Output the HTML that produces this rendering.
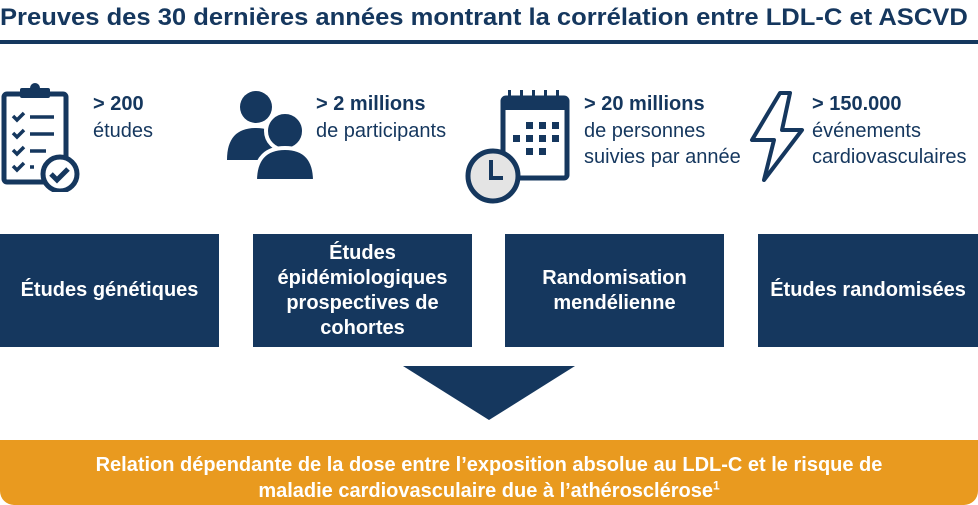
<!DOCTYPE html>
<html><head><meta charset="utf-8"><style>
*{margin:0;padding:0;box-sizing:border-box}
body{width:978px;height:505px;background:#fff;position:relative;overflow:hidden;font-family:"Liberation Sans","DejaVu Sans",sans-serif;color:#15375e}
.title{position:absolute;left:0;top:4px;font-size:24px;font-weight:bold;white-space:nowrap;transform-origin:0 0;transform:scaleX(1.065)}
.rule{position:absolute;left:0;top:40px;width:978px;height:4px;background:#15375e}
.stat{position:absolute;font-size:20px;line-height:26.5px;white-space:nowrap}
.stat b{font-weight:bold}
.box{position:absolute;top:234px;height:113px;background:#15375e;color:#fff;font-weight:bold;font-size:20px;line-height:25px;display:flex;align-items:center;justify-content:center;text-align:center}
.bar{position:absolute;left:0;top:440px;width:978px;height:65px;background:#e99a1f;border-radius:0 0 14px 14px;color:#fff;font-weight:bold;font-size:20px;line-height:26px;text-align:center;padding-top:12px;white-space:nowrap}
svg{position:absolute}
</style></head><body>
<div class="title">Preuves des 30 dernières années montrant la corrélation entre LDL-C et ASCVD</div>
<div class="rule"></div>

<svg style="left:0;top:82px" width="82" height="110" viewBox="0 0 82 110">
<rect x="4" y="12" width="62" height="88" rx="3" fill="none" stroke="#15375e" stroke-width="5"/>
<rect x="20" y="6" width="30" height="10" rx="2" fill="#15375e"/>
<circle cx="35" cy="6" r="5" fill="#15375e"/>
<g stroke="#15375e" stroke-width="3.5" fill="none">
<path d="M13 34l4 4 7-7M13 51l4 4 7-7M13 68l4 4 7-7M13 84l4 4 7-7"/>
<path d="M30 35h24M30 52h24M30 69h16M30 85h4"/>
</g>
<circle cx="60" cy="92" r="17" fill="#fff" stroke="#15375e" stroke-width="5"/>
<path d="M51 92l6 6 11-11" stroke="#15375e" stroke-width="5" fill="none"/>
</svg>
<div class="stat" style="left:93px;top:91px"><b>&gt; 200</b><br>études</div>

<svg style="left:225px;top:88px" width="95" height="95" viewBox="0 0 95 95">
<circle cx="31" cy="19" r="16" fill="#15375e"/>
<path d="M2 72c0-22 10-32 29-32s29 10 29 32z" fill="#15375e"/>
<circle cx="60" cy="43" r="19" fill="#15375e" stroke="#fff" stroke-width="4"/>
<path d="M30 93c0-24 12-33 30-33s30 9 30 33z" fill="#15375e" stroke="#fff" stroke-width="4"/>
</svg>
<div class="stat" style="left:316px;top:91px"><b>&gt; 2 millions</b><br>de participants</div>

<svg style="left:463px;top:88px" width="110" height="120" viewBox="0 0 110 120">
<rect x="40" y="10" width="64" height="80" rx="3" fill="none" stroke="#15375e" stroke-width="5"/>
<rect x="40" y="10" width="64" height="12" fill="#15375e"/>
<g fill="#15375e"><rect x="45" y="2" width="3" height="12"/><rect x="57" y="2" width="3" height="12"/><rect x="69" y="2" width="3" height="12"/><rect x="81" y="2" width="3" height="12"/><rect x="93" y="2" width="3" height="12"/>
<rect x="63" y="34" width="7" height="7"/><rect x="76" y="34" width="7" height="7"/><rect x="89" y="34" width="7" height="7"/>
<rect x="50" y="47" width="7" height="7"/><rect x="63" y="47" width="7" height="7"/><rect x="76" y="47" width="7" height="7"/><rect x="89" y="47" width="7" height="7"/>
<rect x="63" y="60" width="7" height="7"/><rect x="76" y="60" width="7" height="7"/></g>
<circle cx="30" cy="88" r="25" fill="#e4e4e4" stroke="#15375e" stroke-width="5"/>
<path d="M28 72v18h12" stroke="#15375e" stroke-width="4" fill="none"/>
</svg>
<div class="stat" style="left:584px;top:91px"><b>&gt; 20 millions</b><br>de personnes<br>suivies par année</div>

<svg style="left:748px;top:90px" width="60" height="95" viewBox="0 0 60 95">
<path d="M32 3L4 50h22L16 90 54 40H34L42 3z" fill="none" stroke="#15375e" stroke-width="4" stroke-linejoin="round"/>
</svg>
<div class="stat" style="left:812px;top:91px"><b>&gt; 150.000</b><br>événements<br>cardiovasculaires</div>

<div class="box" style="left:0;width:219px">Études génétiques</div>
<div class="box" style="left:253px;width:219px">Études<br>épidémiologiques<br>prospectives de<br>cohortes</div>
<div class="box" style="left:505px;width:219px">Randomisation<br>mendélienne</div>
<div class="box" style="left:758px;width:220px">Études randomisées</div>

<svg style="left:403px;top:366px" width="172" height="55"><path d="M0 0H172L86 54z" fill="#15375e"/></svg>

<div class="bar">Relation dépendante de la dose entre l’exposition absolue au LDL-C et le risque de<br>maladie cardiovasculaire due à l’athérosclérose<sup style="font-size:12px;line-height:0">1</sup></div>
</body></html>
